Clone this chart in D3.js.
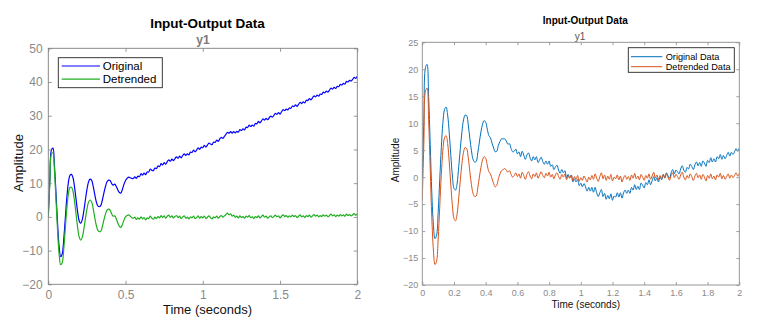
<!DOCTYPE html>
<html>
<head>
<meta charset="utf-8">
<script src="https://cdn.jsdelivr.net/npm/d3@7"></script>
<style>
  html, body { margin: 0; padding: 0; background: #fff; }
  svg { display: block; font-family: "Liberation Sans", Arial, Helvetica, sans-serif; }
</style>
</head>
<body>
<svg id="fig" width="765" height="331"></svg>
<script>
// ---- sampling grid (seconds), 0 .. 2 s every 10 ms ----
const sampleStep = 0.01;
const timeSec = d3.range(0, 201).map(i => +(i * sampleStep).toFixed(2));

// ---- left panel: signal with a linear drift ----
const leftOriginal = [
  0.5, 11.0, 19.8, 20.4, 15.1, 6.8, -2.0, -8.8, -11.8, -11.0,
  -6.7, -0.5, 5.7, 10.2, 12.3, 12.6, 11.6, 8.8, 5.1, 1.4,
  -1.2, -1.9, -0.8, 1.8, 5.0, 8.1, 10.3, 11.2, 10.9, 9.2,
  6.8, 4.6, 3.3, 3.0, 3.4, 5.0, 7.1, 9.0, 10.4, 10.9,
  10.8, 9.9, 9.4, 9.7, 9.0, 8.0, 7.2, 7.1, 8.2, 9.7,
  10.8, 11.4, 11.8, 11.6, 11.4, 11.4, 11.9, 11.4, 12.1, 11.9,
  12.8, 12.4, 13.0, 12.5, 13.3, 13.3, 14.2, 13.8, 13.7, 14.5,
  14.3, 15.1, 14.9, 15.8, 15.4, 16.1, 15.6, 16.4, 16.9, 16.5,
  17.1, 16.7, 17.3, 17.8, 17.4, 18.0, 17.5, 18.2, 18.7, 18.2,
  18.7, 18.4, 19.2, 19.1, 19.8, 19.3, 19.8, 20.5, 20.0, 20.7,
  20.5, 21.2, 20.7, 21.3, 21.9, 21.6, 21.4, 22.2, 22.1, 22.8,
  22.4, 23.1, 23.6, 23.3, 23.9, 24.5, 25.1, 24.8, 25.3, 24.8,
  25.3, 24.9, 25.4, 25.1, 25.9, 25.6, 26.1, 25.8, 26.6, 26.5,
  27.2, 26.8, 27.2, 26.9, 27.7, 27.6, 28.3, 27.9, 28.5, 29.1,
  28.7, 29.2, 28.8, 29.4, 29.9, 29.6, 30.1, 30.7, 30.4, 30.9,
  30.5, 31.2, 31.8, 31.5, 32.0, 31.7, 32.3, 32.2, 32.9, 32.7,
  33.2, 32.8, 33.4, 34.0, 33.6, 34.1, 33.8, 34.6, 34.5, 35.1,
  34.7, 35.3, 35.9, 35.6, 36.1, 35.8, 36.4, 36.3, 37.0, 36.8,
  37.3, 37.0, 37.6, 38.2, 37.9, 38.4, 38.1, 38.7, 38.6, 39.3,
  39.1, 39.6, 39.4, 40.2, 40.0, 40.5, 40.3, 40.8, 41.4, 41.1,
  41.7
];
const leftDetrended = [
  0.0, 10.0, 18.6, 19.0, 13.5, 5.0, -4.0, -11.0, -14.2, -13.6,
  -9.5, -3.5, 2.5, 6.8, 8.7, 8.8, 7.6, 4.6, 0.7, -3.2,
  -6.0, -6.9, -6.0, -3.6, -0.6, 2.3, 4.3, 5.0, 4.5, 2.6,
  0.0, -2.4, -3.9, -4.4, -4.2, -2.8, -0.9, 0.8, 2.0, 2.3,
  2.0, 0.9, 0.2, 0.3, -0.6, -1.8, -2.8, -3.1, -2.2, -0.9,
  0.0, 0.4, 0.6, 0.2, -0.2, -0.4, -0.1, -0.8, -0.3, -0.7,
  0.0, -0.6, -0.2, -0.9, -0.3, -0.5, 0.2, -0.4, -0.7, -0.1,
  -0.5, 0.1, -0.3, 0.4, -0.2, 0.3, -0.4, 0.2, 0.5, -0.1,
  0.3, -0.3, 0.1, 0.4, -0.2, 0.2, -0.5, 0.0, 0.3, -0.4,
  -0.1, -0.6, 0.0, -0.3, 0.2, -0.5, -0.2, 0.3, -0.4, 0.1,
  -0.3, 0.2, -0.5, -0.1, 0.3, -0.2, -0.6, 0.0, -0.3, 0.2,
  -0.4, 0.1, 0.4, -0.1, 0.3, 0.7, 1.1, 0.6, 0.9, 0.2,
  0.5, -0.1, 0.2, -0.3, 0.3, -0.2, 0.1, -0.4, 0.2, -0.1,
  0.4, -0.2, 0.0, -0.5, 0.1, -0.2, 0.3, -0.3, 0.1, 0.5,
  -0.1, 0.2, -0.4, 0.0, 0.3, -0.2, 0.1, 0.5, 0.0, 0.3,
  -0.3, 0.2, 0.6, 0.1, 0.4, -0.1, 0.3, 0.0, 0.5, 0.1,
  0.4, -0.2, 0.2, 0.6, 0.0, 0.3, -0.2, 0.4, 0.1, 0.5,
  -0.1, 0.3, 0.7, 0.2, 0.5, 0.0, 0.4, 0.1, 0.6, 0.2,
  0.5, 0.0, 0.4, 0.8, 0.3, 0.6, 0.1, 0.5, 0.2, 0.7,
  0.3, 0.6, 0.2, 0.8, 0.4, 0.7, 0.3, 0.6, 1.0, 0.5,
  0.9
];

// ---- right panel: signal with a slow curved drift ----
const rightOriginal = [
  0.0, 10.8, 20.3, 20.9, 15.0, 6.1, -2.9, -8.8, -11.4, -10.8,
  -6.6, -0.5, 5.5, 10.1, 12.5, 13.0, 11.5, 8.2, 4.0, 0.2,
  -2.1, -2.4, -1.1, 2.0, 5.3, 8.4, 10.6, 11.5, 11.4, 9.7,
  7.2, 4.9, 3.3, 2.8, 2.9, 4.5, 6.5, 8.4, 9.8, 10.5,
  10.2, 8.9, 7.7, 7.3, 6.3, 5.4, 4.7, 4.8, 5.9, 6.6,
  7.1, 7.1, 7.1, 6.7, 6.1, 6.2, 5.3, 4.7, 4.8, 5.2,
  4.3, 4.7, 3.8, 4.8, 4.1, 3.3, 4.1, 4.5, 3.6, 3.0,
  3.8, 3.2, 3.8, 2.7, 3.2, 3.7, 2.9, 2.4, 3.0, 2.4,
  3.0, 2.0, 2.3, 1.4, 1.9, 2.2, 1.3, 0.7, 1.4, 0.8,
  1.2, -0.1, 0.5, -0.1, 0.4, -0.9, -0.3, -0.9, -0.4, -1.6,
  -1.1, -1.8, -1.2, -1.8, -2.6, -1.9, -2.6, -1.9, -2.8, -1.9,
  -2.9, -3.6, -2.9, -2.3, -3.6, -3.0, -4.1, -3.4, -4.0, -3.1,
  -4.3, -3.5, -3.7, -2.9, -3.7, -2.9, -3.9, -2.9, -2.4, -3.0,
  -2.4, -3.0, -1.9, -2.4, -1.4, -2.3, -1.7, -2.3, -1.1, -1.5,
  -2.0, -1.0, -1.4, -0.5, -1.4, -0.7, 0.1, -0.7, -0.1, -0.9,
  0.0, -0.5, 0.5, -0.1, 0.8, 0.3, -0.2, 0.8, 1.4, 0.6,
  1.3, 1.0, 0.6, 1.5, 2.1, 1.3, 0.9, 1.8, 1.5, 2.4,
  2.0, 1.4, 2.3, 2.8, 2.1, 2.7, 2.0, 3.0, 2.6, 2.0,
  3.1, 2.7, 3.6, 2.8, 3.4, 2.8, 3.8, 3.4, 4.2, 3.3,
  4.0, 3.4, 4.0, 4.6, 3.9, 4.6, 4.2, 4.7, 5.3, 4.8,
  5.4
];
const rightDetrended = [
  -4.2, 6.5, 16.0, 16.5, 10.5, 1.5, -7.5, -13.5, -16.2, -15.6,
  -11.5, -5.5, 0.5, 5.0, 7.3, 7.7, 6.2, 2.8, -1.5, -5.3,
  -7.7, -8.1, -6.8, -3.8, -0.5, 2.5, 4.6, 5.5, 5.3, 3.6,
  1.0, -1.4, -3.0, -3.6, -3.5, -2.0, 0.0, 1.8, 3.2, 3.8,
  3.5, 2.2, 1.0, 0.6, -0.3, -1.2, -1.8, -1.5, -0.3, 0.6,
  1.2, 1.4, 1.6, 1.3, 0.9, 1.2, 0.5, 0.0, 0.3, 0.8,
  0.1, 0.6, -0.2, 0.9, 0.3, -0.4, 0.5, 1.0, 0.2, -0.3,
  0.6, 0.1, 0.8, -0.2, 0.4, 1.0, 0.3, -0.1, 0.7, 0.2,
  0.9, 0.0, 0.5, -0.3, 0.4, 0.8, 0.1, -0.4, 0.5, 0.0,
  0.6, -0.5, 0.2, -0.2, 0.4, -0.7, 0.1, -0.4, 0.3, -0.8,
  -0.1, -0.6, 0.2, -0.3, -0.9, 0.0, -0.5, 0.3, -0.4, 0.6,
  -0.2, -0.8, 0.1, 0.8, -0.3, 0.4, -0.6, 0.2, -0.4, 0.5,
  -0.7, 0.0, -0.3, 0.4, -0.5, 0.2, -0.9, -0.1, 0.3, -0.4,
  0.1, -0.6, 0.4, -0.2, 0.7, -0.3, 0.2, -0.5, 0.5, 0.0,
  -0.6, 0.3, -0.2, 0.6, -0.4, 0.2, 0.9, -0.1, 0.4, -0.5,
  0.3, -0.3, 0.5, -0.2, 0.6, 0.0, -0.6, 0.3, 0.8, -0.1,
  0.5, 0.1, -0.4, 0.4, 0.9, 0.0, -0.5, 0.3, -0.2, 0.6,
  0.1, -0.6, 0.2, 0.7, -0.1, 0.4, -0.4, 0.5, 0.0, -0.7,
  0.3, -0.2, 0.6, -0.3, 0.2, -0.5, 0.4, 0.0, 0.7, -0.3,
  0.3, -0.4, 0.1, 0.6, -0.2, 0.4, -0.1, 0.3, 0.8, 0.2,
  0.7
];

// ---- ticks and labels ----
const leftXTicks = [0, 0.5, 1, 1.5, 2];
const leftYTicks = [-20, -10, 0, 10, 20, 30, 40, 50];
const rightXTicks = [0, 0.2, 0.4, 0.6, 0.8, 1, 1.2, 1.4, 1.6, 1.8, 2];
const rightYTicks = [-20, -15, -10, -5, 0, 5, 10, 15, 20, 25];
const leftLegendLabels = ["Original", "Detrended"];
const rightLegendLabels = ["Original Data", "Detrended Data"];
const figTitle = "Input-Output Data";
const channelName = "y1";
const xLabelText = "Time (seconds)";
const yLabelText = "Amplitude";

const svg = d3.select("#fig");

function drawPanel(p) {
  const x = d3.scaleLinear().domain([p.xTicks[0], p.xTicks[p.xTicks.length - 1]]).range([p.left, p.right]);
  const y = d3.scaleLinear().domain([p.yTicks[0], p.yTicks[p.yTicks.length - 1]]).range([p.bottom, p.top]);
  const g = svg.append("g");

  const clipId = "clip-" + p.id;
  svg.append("defs").append("clipPath").attr("id", clipId)
    .append("rect")
    .attr("x", p.left).attr("y", p.top)
    .attr("width", p.right - p.left).attr("height", p.bottom - p.top);

  // white axes background
  g.append("rect")
    .attr("x", p.left).attr("y", p.top)
    .attr("width", p.right - p.left).attr("height", p.bottom - p.top)
    .attr("fill", "#fff");

  // data traces
  const line = d3.line()
    .x((d, i) => x(timeSec[i]))
    .y(d => y(d))
    .curve(d3.curveCatmullRom.alpha(0.5));
  const traces = g.append("g").attr("clip-path", `url(#${clipId})`);
  p.series.forEach(s => {
    traces.append("path")
      .datum(s.values)
      .attr("d", line)
      .attr("fill", "none")
      .attr("stroke", s.color)
      .attr("stroke-width", p.lineWidth)
      .attr("stroke-linejoin", "round");
  });

  const fmt = d3.format("~g");
  const styleAxis = (sel, showLabels) => {
    sel.select(".domain").remove();
    sel.selectAll(".tick line").attr("stroke", p.axisColor).attr("stroke-width", 0.8);
    sel.selectAll(".tick text")
      .attr("fill", p.tickColor)
      .style("font-size", p.tickFont + "px")
      .style("font-family", "'Liberation Sans', Arial, sans-serif");
    if (!showLabels) sel.selectAll(".tick text").remove();
  };

  g.append("g").attr("transform", `translate(0,${p.bottom})`)
    .call(d3.axisBottom(x).tickValues(p.xTicks).tickFormat(fmt)
      .tickSizeInner(-p.tickLen).tickSizeOuter(0).tickPadding(p.xPad))
    .call(s => styleAxis(s, true));
  g.append("g").attr("transform", `translate(0,${p.top})`)
    .call(d3.axisTop(x).tickValues(p.xTicks).tickSizeInner(-p.tickLen).tickSizeOuter(0))
    .call(s => styleAxis(s, false));
  g.append("g").attr("transform", `translate(${p.left},0)`)
    .call(d3.axisLeft(y).tickValues(p.yTicks).tickFormat(fmt)
      .tickSizeInner(-p.tickLen).tickSizeOuter(0).tickPadding(p.yPad))
    .call(s => styleAxis(s, true));
  g.append("g").attr("transform", `translate(${p.right},0)`)
    .call(d3.axisRight(y).tickValues(p.yTicks).tickSizeInner(-p.tickLen).tickSizeOuter(0))
    .call(s => styleAxis(s, false));

  // axes box
  g.append("rect")
    .attr("x", p.left).attr("y", p.top)
    .attr("width", p.right - p.left).attr("height", p.bottom - p.top)
    .attr("fill", "none").attr("stroke", p.axisColor).attr("stroke-width", 0.9);

  // titles
  g.append("text").attr("x", p.titleX).attr("y", p.titleY)
    .attr("text-anchor", "middle").attr("font-weight", "bold")
    .style("font-size", p.titleFont + "px").attr("fill", "#000")
    .text(figTitle);
  g.append("text").attr("x", p.subX).attr("y", p.subY)
    .attr("text-anchor", "middle").attr("font-weight", p.subWeight)
    .style("font-size", p.subFont + "px").attr("fill", p.subColor)
    .text(channelName);

  // axis labels
  g.append("text").attr("x", p.xLabelX).attr("y", p.xLabelY)
    .attr("text-anchor", "middle").style("font-size", p.labelFont + "px")
    .attr("fill", "#111").text(xLabelText);
  g.append("text")
    .attr("transform", `translate(${p.yLabelX},${p.yLabelY}) rotate(-90)`)
    .attr("text-anchor", "middle").style("font-size", p.labelFont + "px")
    .attr("fill", "#111").text(yLabelText);

  // legend
  const L = p.legend;
  const lg = g.append("g");
  lg.append("rect").attr("x", L.x).attr("y", L.y).attr("width", L.w).attr("height", L.h)
    .attr("fill", "#fff").attr("stroke", "#262626").attr("stroke-width", 0.9);
  p.series.forEach((s, i) => {
    const ly = L.y + L.firstRow + i * L.rowGap;
    lg.append("line")
      .attr("x1", L.x + L.lineStart).attr("x2", L.x + L.lineEnd)
      .attr("y1", ly).attr("y2", ly)
      .attr("stroke", s.color).attr("stroke-width", p.lineWidth);
    lg.append("text")
      .attr("x", L.x + L.textStart).attr("y", ly).attr("dy", "0.35em")
      .style("font-size", L.font + "px").attr("fill", "#000")
      .text(s.label);
  });
}

drawPanel({
  id: "left",
  left: 48.3, right: 357.3, top: 48.3, bottom: 284.3,
  xTicks: leftXTicks, yTicks: leftYTicks,
  series: [
    { values: leftOriginal, color: "#0000ff", label: leftLegendLabels[0] },
    { values: leftDetrended, color: "#1fae1f", label: leftLegendLabels[1] }
  ],
  lineWidth: 1.2, tickLen: 3.5, xPad: 6.5, yPad: 5.6,
  axisColor: "#7f7f7f", tickColor: "#8a8a8a", tickFont: 12,
  titleX: 207.5, titleY: 28, titleFont: 13.5,
  subX: 203, subY: 43.5, subFont: 12, subColor: "#7a7a7a", subWeight: "bold",
  xLabelX: 207.5, xLabelY: 314, yLabelX: 22.5, yLabelY: 163, labelFont: 13,
  legend: { x: 58.3, y: 57.7, w: 104, h: 30, firstRow: 8.3, rowGap: 13.2,
            lineStart: 3.4, lineEnd: 41.7, textStart: 44.4, font: 11.5 }
});

drawPanel({
  id: "right",
  left: 422.3, right: 739.3, top: 42.3, bottom: 285,
  xTicks: rightXTicks, yTicks: rightYTicks,
  series: [
    { values: rightOriginal, color: "#0072bd", label: rightLegendLabels[0] },
    { values: rightDetrended, color: "#d95319", label: rightLegendLabels[1] }
  ],
  lineWidth: 1, tickLen: 3, xPad: 5, yPad: 4,
  axisColor: "#8c8c8c", tickColor: "#8a8a8a", tickFont: 9,
  titleX: 585.3, titleY: 23.5, titleFont: 10,
  subX: 580, subY: 40, subFont: 10, subColor: "#555", subWeight: "normal",
  xLabelX: 585.7, xLabelY: 308, yLabelX: 398.5, yLabelY: 160, labelFont: 10,
  legend: { x: 628.3, y: 47.7, w: 106, h: 24.6, firstRow: 9, rowGap: 10,
            lineStart: 2.7, lineEnd: 34, textStart: 37.4, font: 9.2 }
});
</script>
</body>
</html>
